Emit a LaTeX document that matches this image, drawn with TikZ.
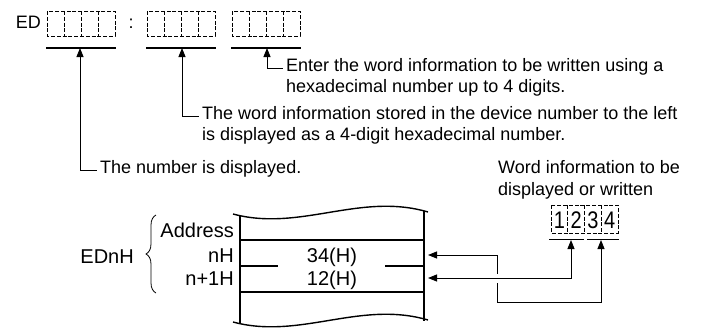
\documentclass[tikz,border=0pt]{standalone}
\usepackage{fontspec}
\usepackage{graphicx}
\setmainfont{Liberation Sans}
\usetikzlibrary{arrows.meta,decorations.pathreplacing}
\begin{document}
\begin{tikzpicture}[x=1pt,y=-1pt,
  txt/.style={inner sep=0pt, font=\fontsize{18}{21}\selectfont},
  big/.style={inner sep=0pt, font=\fontsize{20}{23}\selectfont},
  dbox/.style={draw, dash pattern=on 4pt off 1.8pt, line width=0.9pt},
  uline/.style={line width=1.2pt},
  conn/.style={line width=0.9pt},
  memline/.style={line width=1.4pt},
  ahead/.tip={Triangle[length=9pt,width=7pt]}]
\useasboundingbox (0,0) rectangle (706,327);
\fill[white] (0,0) rectangle (706,327);
% ---------- top row ----------
\node[txt, anchor=base east] (ed) at (41,28) {ED};
\node[txt, anchor=base] (colon) at (131,28) {:};
\foreach \x in {47,147,232}{
  \draw[dbox] (\x,11) rectangle ++(68,25);
  \foreach \i in {1,2,3} \draw[dbox] (\x+17*\i,11) -- ++(0,25);
  \draw[uline] (\x-1,48) -- ++(70,0);
}
\coordinate (u1) at (80,48);
\coordinate (u2) at (182,48);
\coordinate (u3) at (267,48);
% texts
\node[txt, anchor=base west] (e1) at (286,71) {Enter the word information to be written using a};
\node[txt, anchor=base west] (e2) at (286,92) {hexadecimal number up to 4 digits.};
\node[txt, anchor=base west] (w1) at (202,119) {The word information stored in the device number to the left};
\node[txt, anchor=base west] (w2) at (202,140) {is displayed as a 4-digit hexadecimal number.};
\node[txt, anchor=base west] (n1) at (100,173) {The number is displayed.};
\draw[conn, ahead-] (u3) |- ([xshift=-3pt]e1.mid west);
\draw[conn, ahead-] (u2) |- ([xshift=-3pt]w1.mid west);
\draw[conn, ahead-] (u1) |- ([xshift=-3pt]n1.mid west);
% ---------- word information ----------
\node[txt, anchor=base west] (wi1) at (498,173) {Word information to be};
\node[txt, anchor=base west] (wi2) at (498,195) {displayed or written};
\draw[dbox] (551,205) rectangle (618,233);
\foreach \i in {1,2,3} \draw[dbox] (551+16.75*\i,205) -- ++(0,28);
\foreach \d [count=\i] in {1,2,3,4}
  \node[big, anchor=base] (dg\i) at (551+16.75*\i-8.4,228) {\scalebox{1}[1.2]{\d}};
\draw[conn] (549,239) -- (584,239);
\draw[conn] (587,239) -- (619,239);
\coordinate (d12) at (571,240);
\coordinate (d34) at (601,240);
% ---------- memory ----------
\draw[memline] (233,214) .. controls (300,232) and (360,192) .. (428,212);
\draw[memline] (233,322) .. controls (300,340) and (360,300) .. (428,320);
\draw[memline] (240,215) -- (240,324);
\draw[memline] (424,211) -- (424,321);
\draw[memline] (240,240) -- (424,240);
\draw[memline] (240,292) -- (424,292);
\draw[memline] (240,266) -- (278,266);
\draw[memline] (385,266) -- (424,266);
\node[big, anchor=base east] (addr) at (234,237) {Address};
\node[big, anchor=base east] (nh) at (234,262) {nH};
\node[big, anchor=base east] (n1h) at (234,285) {n+1H};
\node[big, anchor=base] (v34) at (332,262) {34(H)};
\node[big, anchor=base] (v12) at (332,285) {12(H)};
\node[big, anchor=base east] (ednh) at (134,263) {EDnH};
\draw[line width=0.8pt, decorate, decoration={brace, amplitude=10pt}] (156,293) -- (156,215);
% ---------- connectors ----------
\coordinate (p34) at (428,255);
\coordinate (p12) at (428,278);
\coordinate (g1) at (497,274);
\coordinate (g2) at (497,283);
\coordinate (bl) at (497,302);
\draw[conn, ahead-ahead] (p12) -| (d12);
\draw[conn, ahead-] (p34) -| (g1);
\draw[conn, -ahead] (g2) -- (bl) -| (d34);
\end{tikzpicture}
\end{document}
